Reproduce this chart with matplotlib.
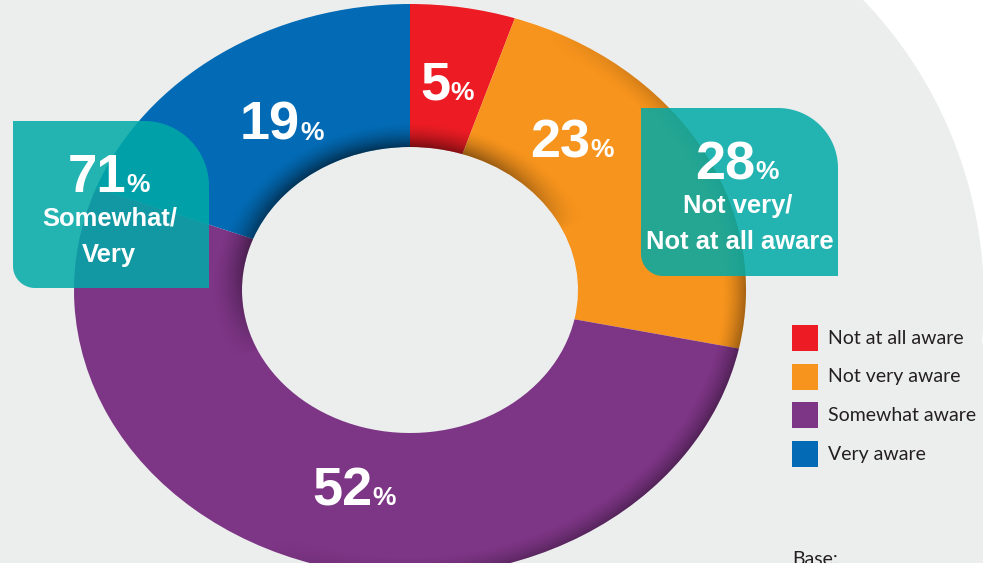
import numpy as np
import matplotlib
matplotlib.use('Agg')
import matplotlib.pyplot as plt
from matplotlib.patches import Polygon, Rectangle, Wedge

W, H = 983, 563

# data
categories = ['Not at all aware', 'Not very aware', 'Somewhat aware', 'Very aware']
shares = [5, 23, 52, 19]
colors = ['#ED1C24', '#F7941D', '#7D3585', '#036BB5']
group_names = [['Somewhat/', 'Very'], ['Not very/', 'Not at all aware']]
group_shares = [shares[2] + shares[3], shares[0] + shares[1]]

BG = '#ECEEED'
TEAL = '#00AAA8'
INK = '#231F20'
NUM_FONT = ['Liberation Sans Narrow', 'Liberation Sans', 'DejaVu Sans']
WORD_FONT = ['Liberation Sans', 'DejaVu Sans']
LEG_FONT = ['Lato', 'DejaVu Sans']

fig = plt.figure(figsize=(W / 100, H / 100), dpi=100, facecolor=BG)

# background layer, pixel coords
ax_bg = fig.add_axes([0, 0, 1, 1], zorder=0)
ax_bg.set_xlim(0, W)
ax_bg.set_ylim(H, 0)
ax_bg.axis('off')
cxw, cyw, rw = 551, 300, 433
t = np.linspace(np.arctan2(0 - cyw, 863 - cxw) - 0.05, 0.1, 200)
arc = np.column_stack([cxw + rw * np.cos(t), cyw + rw * np.sin(t)])
white = np.vstack([arc, [[W + 20, arc[-1, 1]], [W + 20, -20], [arc[0, 0], -20]]])
ax_bg.add_patch(Polygon(white, closed=True, facecolor='white', edgecolor='none'))

# donut layer: unit circle squashed into an ellipse
cx, cy, rx, ry = 410, 290, 336, 286
ax_pie = fig.add_axes([0, 0, 1, 1], zorder=1)
wedges, _ = ax_pie.pie(shares, colors=colors, startangle=90, counterclock=False,
                       radius=1, wedgeprops=dict(width=0.5, edgecolor='none'))
ax_pie.set_aspect('auto')
xl = (-cx / rx, (W - cx) / rx)
yl = (-(H - cy) / ry, cy / ry)

# soft bevel shading on the ring
gx = np.linspace(xl[0], xl[1], W)
gy = np.linspace(yl[0], yl[1], H)
X, Y = np.meshgrid(gx, gy)
R = np.hypot(X, Y)
T = np.arctan2(Y, X)
inner = 0.55 * np.clip((0.59 - R) / 0.09, 0, 1) ** 1.6 * np.clip(np.cos(T - np.radians(115)), 0, 1) ** 0.7
outer = 0.35 * np.clip((R - 0.93) / 0.07, 0, 1) ** 1.5 * np.clip(np.cos(T + np.radians(25)), 0, 1) ** 0.8
shade = np.zeros((H, W, 4))
shade[..., 3] = np.clip(inner + outer, 0, 1)
im = ax_pie.imshow(shade, extent=(xl[0], xl[1], yl[0], yl[1]), origin='lower',
                   aspect='auto', interpolation='bilinear', zorder=3)
ring = Wedge((0, 0), 1, 0, 360, width=0.5, transform=ax_pie.transData)
im.set_clip_path(ring)
ax_pie.set_xlim(xl)
ax_pie.set_ylim(yl)
ax_pie.axis('off')

# overlay layer, pixel coords
ax = fig.add_axes([0, 0, 1, 1], zorder=2)
ax.set_xlim(0, W)
ax.set_ylim(H, 0)
ax.axis('off')


def box(x0, y0, x1, y1, rtr, rbl):
    a1 = np.linspace(-np.pi / 2, 0, 30)
    a2 = np.linspace(np.pi / 2, np.pi, 20)
    pts = [[x0, y0]]
    pts += list(zip(x1 - rtr + rtr * np.cos(a1), y0 + rtr + rtr * np.sin(a1)))
    pts += [[x1, y1]]
    pts += list(zip(x0 + rbl + rbl * np.cos(a2), y1 - rbl + rbl * np.sin(a2)))
    ax.add_patch(Polygon(pts, closed=True, facecolor=TEAL, alpha=0.85, edgecolor='none'))


box(13, 121, 209, 288, 65, 22)
box(641, 108, 838, 276, 60, 22)


def pct(x, y, v, big=39, small=19):
    ax.text(x, y, str(v), ha='right', va='baseline', fontsize=big, fontweight='bold',
            color='white', family=NUM_FONT)
    ax.text(x, y, '%', ha='left', va='baseline', fontsize=small, fontweight='bold',
            color='white', family=NUM_FONT)


# slice labels (right edge of number, baseline)
label_pos = [(450, 100), (590, 157), (372, 505), (300, 140)]
for (x, y), v in zip(label_pos, shares):
    pct(x, y, v)

# group boxes
pct(126, 192, group_shares[0], big=38)
ax.text(110, 225, group_names[0][0], ha='center', va='baseline', fontsize=18.4,
        fontweight='bold', color='white', family=WORD_FONT)
ax.text(109, 262, group_names[0][1], ha='center', va='baseline', fontsize=18.4,
        fontweight='bold', color='white', family=WORD_FONT)
pct(755, 179, group_shares[1])
ax.text(738, 213, group_names[1][0], ha='center', va='baseline', fontsize=18.4,
        fontweight='bold', color='white', family=WORD_FONT)
ax.text(740, 249, group_names[1][1], ha='center', va='baseline', fontsize=18.4,
        fontweight='bold', color='white', family=WORD_FONT)

# legend
for i, (name, c) in enumerate(zip(categories, colors)):
    top = 325 + i * 38.7
    ax.add_patch(Rectangle((792, top), 26, 26, facecolor=c, edgecolor='none'))
    ax.text(828, top + 13, name, ha='left', va='center', fontsize=14, color=INK,
            family=LEG_FONT)

ax.text(792, 565, 'Base:', ha='left', va='baseline', fontsize=14, color=INK, family=LEG_FONT)

fig.savefig('out.png', dpi=100, facecolor=BG)
